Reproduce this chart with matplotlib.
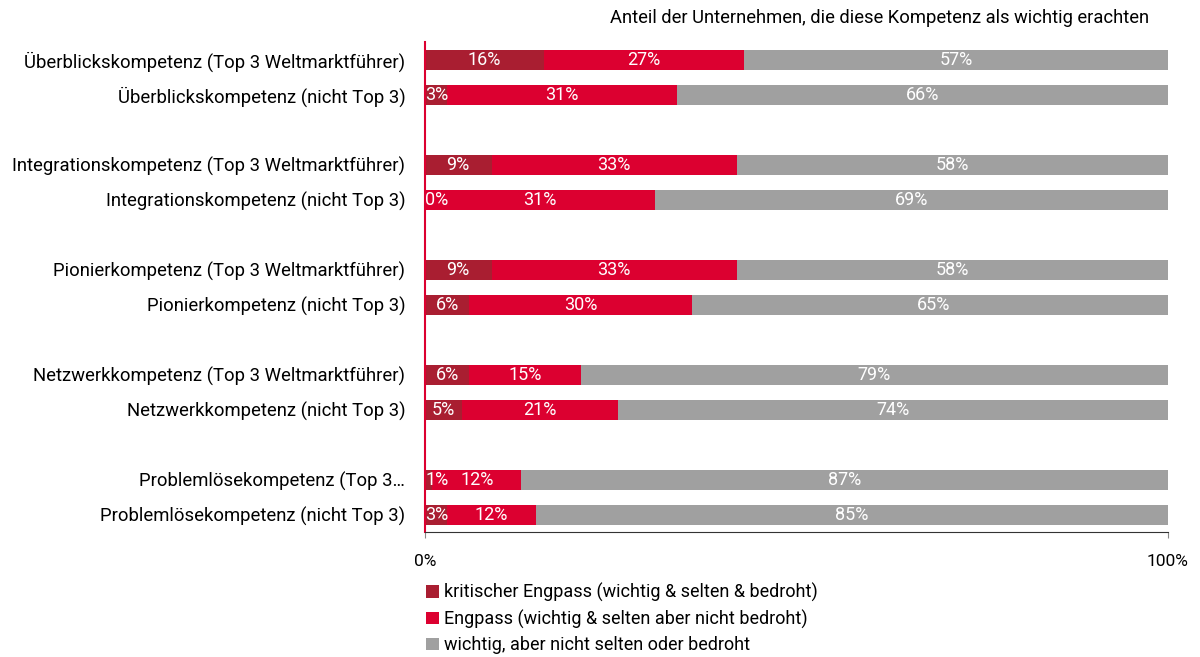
import matplotlib.pyplot as plt

plt.rcParams['font.family'] = ['Roboto', 'DejaVu Sans']

# === Daten ===
categories = [
    'Überblickskompetenz (Top 3 Weltmarktführer)',
    'Überblickskompetenz (nicht Top 3)',
    'Integrationskompetenz (Top 3 Weltmarktführer)',
    'Integrationskompetenz (nicht Top 3)',
    'Pionierkompetenz (Top 3 Weltmarktführer)',
    'Pionierkompetenz (nicht Top 3)',
    'Netzwerkkompetenz (Top 3 Weltmarktführer)',
    'Netzwerkkompetenz (nicht Top 3)',
    'Problemlösekompetenz (Top 3…',
    'Problemlösekompetenz (nicht Top 3)',
]
kritisch = [16, 3, 9, 0, 9, 6, 6, 5, 1, 3]
engpass = [27, 31, 33, 31, 33, 30, 15, 21, 12, 12]
wichtig = [57, 66, 58, 69, 58, 65, 79, 74, 87, 85]

series_names = [
    'kritischer Engpass (wichtig & selten & bedroht)',
    'Engpass (wichtig & selten aber nicht bedroht)',
    'wichtig, aber nicht selten oder bedroht',
]
colors = ['#A91E31', '#DC0030', '#A0A0A0']

# Positionen: Paare mit Lücke
ypos = [(i // 2) * 3 + (i % 2) for i in range(len(categories))]

fig = plt.figure(figsize=(12, 6.57), dpi=100)
ax = fig.add_axes([0.354, 0.19, 0.619, 0.746])

left = [0] * len(categories)
for vals, name, col in zip([kritisch, engpass, wichtig], series_names, colors):
    ax.barh(ypos, vals, left=left, height=0.57, color=col, label=name)
    for y, l, v in zip(ypos, left, vals):
        if v < 4:
            ax.text(l + 0.05, y, f'{v}%', ha='left', va='center', color='white', fontsize=13)
        else:
            ax.text(l + v / 2, y, f'{v}%', ha='center', va='center', color='white', fontsize=13)
    left = [a + b for a, b in zip(left, vals)]

ax.set_xlim(0, 100)
ax.set_ylim(13.5, -0.5)
ax.set_yticks(ypos)
ax.set_yticklabels(categories, fontsize=13.3)
ax.tick_params(axis='y', length=0, pad=14)
ax.set_xticks([0, 100])
ax.set_xticklabels(['0%', '100%'], fontsize=12.5)
ax.tick_params(axis='x', length=4, color='#888888', pad=12)

for s in ['top', 'right']:
    ax.spines[s].set_visible(False)
ax.spines['left'].set_color('#DC0030')
ax.spines['left'].set_linewidth(1.5)
ax.spines['bottom'].set_color('#333333')

fig.text(0.958, 0.972, 'Anteil der Unternehmen, die diese Kompetenz als wichtig erachten',
         ha='right', va='center', fontsize=13.2)

fig.legend(loc='upper left', bbox_to_anchor=(0.355, 0.113), frameon=False, fontsize=13,
           handlelength=0.7, handleheight=0.7, handletextpad=0.3, labelspacing=0.42,
           borderaxespad=0, borderpad=0)

plt.savefig('out.png')
